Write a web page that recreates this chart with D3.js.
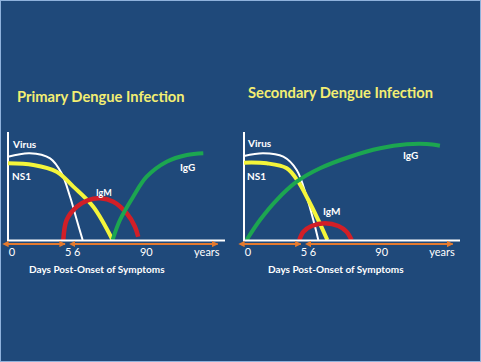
<!DOCTYPE html>
<html lang="en">
<head>
<meta charset="UTF-8">
<title>Primary vs Secondary Dengue Infection</title>
<script src="https://d3js.org/d3.v7.min.js"></script>
<style>
  html, body { margin: 0; padding: 0; background: #1f497a; }
  svg { display: block; font-family: Lato, "Open Sans", sans-serif; }
  .title { fill: #f3ee72; font-weight: 700; font-size: 14.7px; }
  .lbl { fill: #ffffff; font-weight: 700; font-size: 10px; }
  .tick text { fill: #ffffff; font-size: 11px; }
  .xlabel { fill: #ffffff; font-weight: 700; font-size: 10px; }
</style>
</head>
<body>
<div id="chart"></div>
<script>
// shared x ticks (abstract time units 0-100)
const tickPos = [1.6, 27.5, 31.7, 63.5, 91.4];
const tickLabels = ["0", "5", "6", "90", "years"];
const arrowSpans = [[0, 26.3], [30.8, 96.6]];

// primary infection curves: [x, level]
const primaryVirus = [[0, 77], [10, 80.3], [19.4, 75.6], [24.7, 61.8], [28.6, 40.1], [31.7, 18.5], [34.4, 0]];
const primaryNS1 = [[0, 71], [11.7, 69.4], [22.4, 63.2], [30.1, 49.4], [39.3, 30.8], [48.2, 0]];
const primaryIgM = [[25.5, 0], [27, 18.5], [31.7, 30.8], [37, 37], [42.4, 38.6], [48.5, 35.5], [54.7, 24.7], [58.5, 12.3], [60, 3]];
const primaryIgG = [[48.2, 0], [51.6, 18.5], [57.7, 40.1], [63.9, 58.6], [73.1, 72.5], [82.4, 78.7], [90, 80.3]];

// secondary infection curves
const secondaryVirus = [[0, 77.8], [8.9, 80.3], [18.2, 77.1], [24.4, 64.8], [29, 40.1], [32.1, 18.5], [34.4, 0]];
const secondaryNS1 = [[0, 71.6], [10.5, 71], [19.8, 66.4], [25.1, 54], [29.8, 37], [34.4, 18.5], [38.6, 0]];
const secondaryIgM = [[25.6, 0], [27.5, 7.7], [31.3, 13], [37.5, 15.5], [43.7, 13], [47.5, 7.7], [49.8, 0]];
const secondaryIgG = [[1.2, 0], [7.4, 18.5], [15.1, 37], [24.4, 54], [35.2, 66.4], [49.1, 77.1], [63, 84.9], [75.3, 88.6], [84.6, 88.9], [90.7, 87.3]];

const W = 481, H = 362;
const svg = d3.select("#chart").append("svg")
  .attr("width", W).attr("height", H);

svg.append("rect")
  .attr("x", 0.5).attr("y", 0.5)
  .attr("width", W - 1).attr("height", H - 1)
  .attr("fill", "#1f497a")
  .attr("stroke", "#8fb2dc").attr("stroke-width", 1);

const defs = svg.append("defs");
["start", "end"].forEach(k => {
  defs.append("marker")
    .attr("id", "arrow-" + k)
    .attr("viewBox", "0 0 10 10")
    .attr("refX", k === "end" ? 9 : 1).attr("refY", 5)
    .attr("markerWidth", 3.5).attr("markerHeight", 3.5)
    .attr("orient", "auto-start-reverse")
    .append("path")
    .attr("d", "M0,0 L10,5 L0,10 z")
    .attr("fill", "#e57a2e");
});

const colors = { virus: "#ffffff", ns1: "#f4f53a", igm: "#d21f27", igg: "#1ca650" };
const widths = { virus: 2, ns1: 4, igm: 4.5, igg: 4 };

const panels = [
  {
    title: "Primary Dengue Infection", titleX: 17, titleY: 102,
    x0: 8, x1: 225,
    curves: { virus: primaryVirus, ns1: primaryNS1, igm: primaryIgM, igg: primaryIgG },
    labels: [["Virus", 13, 148, "lbl"], ["NS1", 12, 180, "lbl"], ["IgM", 96, 196, "lbl small"], ["IgG", 180, 171, "lbl"]],
    xlabelX: 29
  },
  {
    title: "Secondary Dengue Infection", titleX: 248, titleY: 98,
    x0: 244, x1: 460,
    curves: { virus: secondaryVirus, ns1: secondaryNS1, igm: secondaryIgM, igg: secondaryIgG },
    labels: [["Virus", 248, 147, "lbl"], ["NS1", 247, 180, "lbl"], ["IgM", 323, 215, "lbl"], ["IgG", 403, 159, "lbl"]],
    xlabelX: 268
  }
];

const yTop = 132, yBase = 240;

panels.forEach(p => {
  const g = svg.append("g");

  const x = d3.scaleLinear().domain([0, 100]).range([p.x0, p.x1]);
  const y = d3.scaleLinear().domain([0, 100]).range([yBase, yBase - 108]);

  g.append("text").attr("class", "title")
    .attr("x", p.titleX).attr("y", p.titleY).text(p.title);

  // axes lines
  g.append("line")
    .attr("x1", x(0)).attr("x2", x(0))
    .attr("y1", yTop).attr("y2", yBase)
    .attr("stroke", "#fff").attr("stroke-width", 2);

  // curves
  const line = d3.line()
    .x(d => x(d[0])).y(d => y(d[1]))
    .curve(d3.curveCatmullRom.alpha(0.5));

  ["virus", "ns1", "igm", "igg"].forEach(k => {
    g.append("path")
      .datum(p.curves[k])
      .attr("d", line)
      .attr("fill", "none")
      .attr("stroke", colors[k])
      .attr("stroke-width", widths[k])
      .attr("stroke-linecap", "butt");
  });

  g.append("line")
    .attr("x1", x(0) - 1).attr("x2", x(100))
    .attr("y1", yBase + 0.5).attr("y2", yBase + 0.5)
    .attr("stroke", "#fff").attr("stroke-width", 2);

  // orange double arrows
  arrowSpans.forEach(s => {
    g.append("line")
      .attr("x1", x(s[0])).attr("x2", x(s[1]))
      .attr("y1", 244).attr("y2", 244)
      .attr("stroke", "#e57a2e").attr("stroke-width", 1.8)
      .attr("marker-start", "url(#arrow-start)")
      .attr("marker-end", "url(#arrow-end)");
  });

  // tick labels via axis
  const ax = g.append("g")
    .attr("transform", `translate(0,${yBase + 4})`)
    .call(d3.axisBottom(x)
      .tickValues(tickPos)
      .tickSize(0)
      .tickPadding(4)
      .tickFormat((d, i) => tickLabels[i]));
  ax.select(".domain").remove();
  ax.selectAll("text").attr("font-family", "Lato, 'Open Sans', sans-serif");

  g.append("text").attr("class", "xlabel")
    .attr("x", p.xlabelX).attr("y", 273)
    .text("Days Post-Onset of Symptoms");

  p.labels.forEach(l => {
    g.append("text").attr("class", "lbl")
      .attr("x", l[1]).attr("y", l[2])
      .style("font-size", l[3].includes("small") ? "9px" : "10px")
      .text(l[0]);
  });
});
</script>
</body>
</html>
